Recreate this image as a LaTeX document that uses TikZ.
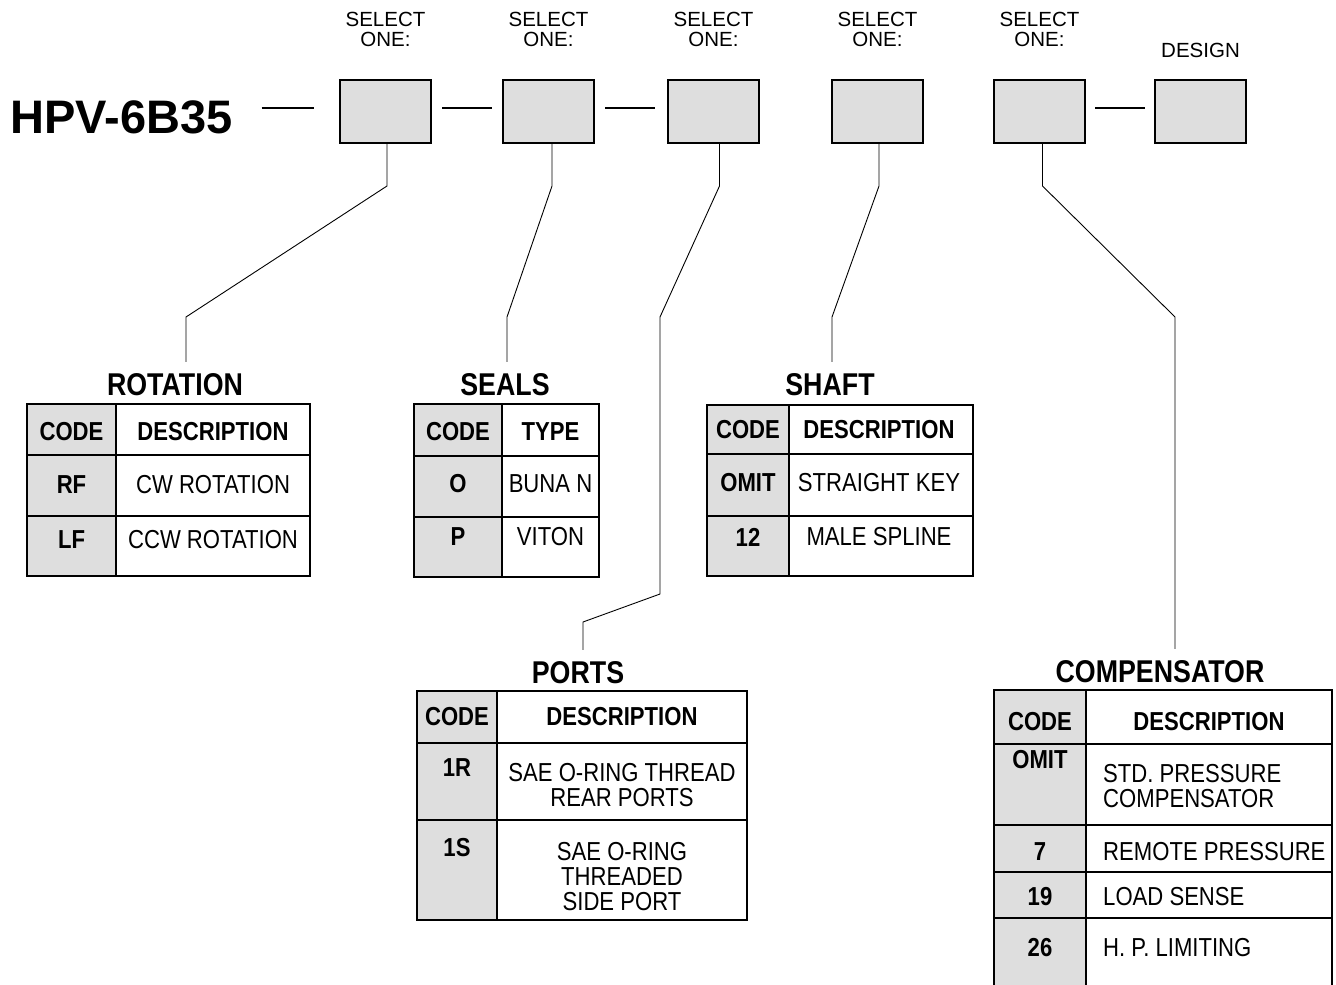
\documentclass[tikz,border=0pt]{standalone}
\usepackage{fontspec}
\setmainfont{Liberation Sans}
\newfontfamily\narrowsf[FakeStretch=0.85]{Liberation Sans}
\usetikzlibrary{positioning}

\definecolor{boxgray}{gray}{0.87}

\tikzset{
  selbox/.style={draw, line width=2pt, fill=boxgray, minimum width=91pt, minimum height=63pt, inner sep=0pt, outer sep=0pt},
  toplbl/.style={font=\fontsize{20.5}{20}\selectfont, align=center, inner sep=0pt},
  joinline/.style={line width=2pt, shorten <=11pt, shorten >=11pt},
  lead/.style={line width=0.9pt},
  ttl/.style={font=\narrowsf\bfseries\fontsize{31.5}{33}\selectfont, anchor=base, inner xsep=0pt, inner ysep=11pt},
  hd/.style={font=\narrowsf\bfseries\fontsize{26}{25}\selectfont, inner sep=0pt},
  cell/.style={font=\narrowsf\fontsize{26}{25}\selectfont, inner sep=0pt, align=center},
  tabframe/.style={line width=2pt},
  tabrule/.style={line width=1.3pt}
}

\begin{document}
\begin{tikzpicture}[x=1pt, y=-1pt]

\useasboundingbox (0,0) rectangle (1336,985);
\fill[white] (0,0) rectangle (1336,985);

% Model code and option boxes
\node[font=\bfseries\fontsize{47}{50}\selectfont, inner sep=0pt] (hpv) at (121.5,117) {HPV-6B35};
\node[selbox] (b1) at (385.5,111.5) {};
\node[selbox, right=72pt of b1] (b2) {};
\node[selbox, right=74pt of b2] (b3) {};
\node[selbox, right=73pt of b3] (b4) {};
\node[selbox, right=71pt of b4] (b5) {};
\node[selbox, right=70pt of b5] (b6) {};

% Labels above boxes
\foreach \b in {1,...,5} {
    \node[toplbl, above=33pt of b\b] (sel\b) {SELECT\\ONE:};
}
\node[toplbl, above=22pt of b6] (design) {DESIGN};

% Dashes between boxes
\coordinate (d0) at ([yshift=4pt]b1.west);
\draw[joinline, shorten <=29pt, shorten >=26pt] (d0 -| hpv.east) -- (d0);
\draw[joinline] ([yshift=4pt]b1.east) -- ([yshift=4pt]b2.west);
\draw[joinline, shorten >=13pt] ([yshift=4pt]b2.east) -- ([yshift=4pt]b3.west);
\draw[joinline, shorten <=10pt, shorten >=10pt] ([yshift=4pt]b5.east) -- ([yshift=4pt]b6.west);

% Table titles
\node[ttl] (rot) at (175,395) {ROTATION};
\node[ttl] (seals) at (505,395) {SEALS};
\node[ttl] (shaft) at (830,395) {SHAFT};
\node[ttl] (ports) at (578,683) {PORTS};
\node[ttl] (comp) at (1160,682) {COMPENSATOR};

% Leaders from boxes to tables
\coordinate (k1) at (186,317);
\coordinate (k2) at (507,317);
\coordinate (k3) at (660,317);
\coordinate (k3b) at (660,594);
\coordinate (k3c) at (583,622);
\coordinate (k4) at (832,317);
\coordinate (k5) at (1175,317);
\draw[lead] ([xshift=1.5pt]b1.south) -- ++(0,43) -- (k1) -- (k1 |- rot.north);
\draw[lead] ([xshift=3.5pt]b2.south) -- ++(0,43) -- (k2) -- (k2 |- seals.north);
\draw[lead] ([xshift=6pt]b3.south) -- ++(0,43) -- (k3) -- (k3b) -- (k3c) -- (k3c |- ports.north);
\draw[lead] ([xshift=1.5pt]b4.south) -- ++(0,43) -- (k4) -- (k4 |- shaft.north);
\draw[lead] ([xshift=3pt]b5.south) -- ++(0,43) -- (k5) -- (k5 |- comp.north);

% ROTATION table
\fill[boxgray] (27,404) rectangle (116,576);
\draw[tabrule] (116,404) -- (116,576) (27,455) -- (310,455) (27,516) -- (310,516);
\draw[tabframe] (27,404) rectangle (310,576);
\node[hd] (rotch) at (71.5,432) {CODE};
\node[hd] (rotdh) at (213,432) {DESCRIPTION};
\foreach \yy/\cd/\ds [count=\i] in {485/RF/CW ROTATION, 540/LF/CCW ROTATION} {
    \node[hd] (rotc\i) at (71.5,\yy) {\cd};
    \node[cell] (rotd\i) at (213,\yy) {\ds};
}

% SEALS table
\fill[boxgray] (414,404) rectangle (502,577);
\draw[tabrule] (502,404) -- (502,577) (414,456) -- (599,456) (414,517) -- (599,517);
\draw[tabframe] (414,404) rectangle (599,577);
\node[hd] (selch) at (458,432) {CODE};
\node[hd] (seldh) at (550.5,432) {TYPE};
\foreach \yy/\cd/\ds [count=\i] in {484/O/BUNA N, 537/P/VITON} {
    \node[hd] (selc\i) at (458,\yy) {\cd};
    \node[cell] (seld\i) at (550.5,\yy) {\ds};
}

% SHAFT table
\fill[boxgray] (707,405) rectangle (789,576);
\draw[tabrule] (789,405) -- (789,576) (707,454) -- (973,454) (707,516) -- (973,516);
\draw[tabframe] (707,405) rectangle (973,576);
\node[hd] (shch) at (748,430) {CODE};
\node[hd] (shdh) at (879,430) {DESCRIPTION};
\foreach \yy/\cd/\ds [count=\i] in {483/OMIT/STRAIGHT KEY, 537/12/MALE SPLINE} {
    \node[hd] (shc\i) at (748,\yy) {\cd};
    \node[cell] (shd\i) at (879,\yy) {\ds};
}

% PORTS table
\fill[boxgray] (417,691) rectangle (497,920);
\draw[tabrule] (497,691) -- (497,920) (417,743) -- (747,743) (417,820) -- (747,820);
\draw[tabframe] (417,691) rectangle (747,920);
\node[hd] (poch) at (457,717) {CODE};
\node[hd] (podh) at (622,717) {DESCRIPTION};
\node[hd] (poc1) at (457,768) {1R};
\node[cell] (pod1) at (622,785) {SAE O-RING THREAD\\REAR PORTS};
\node[hd] (poc2) at (457,848) {1S};
\node[cell] (pod2) at (622,877) {SAE O-RING\\THREADED\\SIDE PORT};

% COMPENSATOR table (runs off the bottom)
\fill[boxgray] (994,690) rectangle (1086,1000);
\draw[tabrule] (1086,690) -- (1086,1000);
\foreach \yy in {744,825,872,918} {
    \draw[tabrule] (994,\yy) -- (1332,\yy);
}
\draw[tabframe] (994,1000) -- (994,690) -- (1332,690) -- (1332,1000);
\node[hd] (coch) at (1040,722) {CODE};
\node[hd] (codh) at (1209,722) {DESCRIPTION};
\node[hd] (coc1) at (1040,760) {OMIT};
\node[cell, anchor=west, align=left] (cod1) at (1103,786) {STD. PRESSURE\\COMPENSATOR};
\foreach \yy/\cd/\ds [count=\i from 2] in {852/7/REMOTE PRESSURE, 897/19/LOAD SENSE, 948/26/H. P. LIMITING} {
    \node[hd] (coc\i) at (1040,\yy) {\cd};
    \node[cell, anchor=west, align=left] (cod\i) at (1103,\yy) {\ds};
}

\end{tikzpicture}
\end{document}
